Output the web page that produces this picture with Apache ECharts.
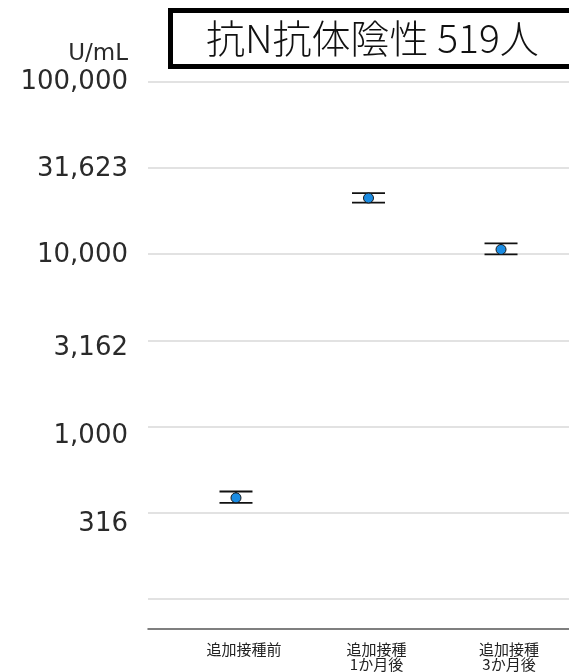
<!DOCTYPE html>
<html>
<head>
<meta charset="utf-8">
<script src="https://cdn.jsdelivr.net/npm/echarts@6/dist/echarts.min.js"></script>
<style>
  html, body { margin: 0; padding: 0; background: #fff; }
  #main { width: 569px; height: 672px; }
</style>
</head>
<body>
<div id="main"></div>
<script>
// カテゴリ・GMT・95%CI（U/mL）
const categories = ['追加接種前', '追加接種\n1か月後', '追加接種\n3か月後'];
const gmt = [386, 21150, 10640];
const ciLower = [361, 19900, 9960];
const ciUpper = [420, 22600, 11530];

// y軸の目盛り（対数）
const tickValues = [100, 316, 1000, 3162, 10000, 31623, 100000];
const tickLabels = ['', '316', '1,000', '3,162', '10,000', '31,623', '100,000'];

const yMin = 67.6;
const yMax = 100000;

// ラベルの縦ずれ（元画像に合わせる）
const labelShift = [0, 11, 10, 8, 1, 1, 1];
const rich = {};
labelShift.forEach(function (d, i) {
  rich['t' + i] = {
    fontFamily: 'DejaVu Sans',
    fontSize: 26,
    color: '#2a2a2a',
    padding: [d * 2, 0, 0, 0]
  };
});

let myChart = echarts.init(document.getElementById('main'));

let option = {
  animation: false,
  backgroundColor: '#fff',
  title: {
    text: '抗N抗体陰性 519人',
    left: 170,
    top: 10,
    padding: [9, 150, 9, 36],
    borderColor: '#000',
    borderWidth: 5,
    backgroundColor: '#fff',
    textStyle: {
      fontFamily: 'Noto Sans CJK JP',
      fontSize: 39,
      fontWeight: 300,
      color: '#111'
    }
  },
  graphic: [
    {
      type: 'text',
      x: 128,
      y: 54,
      style: {
        text: 'U/mL',
        fontFamily: 'DejaVu Sans',
        fontSize: 23,
        fill: '#2a2a2a',
        align: 'right',
        verticalAlign: 'middle'
      }
    }
  ],
  grid: {
    left: 148,
    right: 0,
    top: 81.7,
    bottom: 43.7
  },
  xAxis: {
    type: 'value',
    min: -0.664,
    max: 2.513,
    splitLine: { show: false },
    axisTick: { show: false, customValues: [0, 1, 2] },
    axisLine: {
      show: true,
      onZero: false,
      lineStyle: { color: '#555', width: 1.5 }
    },
    axisLabel: {
      customValues: [0, 1, 2],
      margin: 13,
      fontFamily: 'Noto Sans CJK JP',
      fontSize: 15,
      lineHeight: 15,
      color: '#222',
      padding: [0, 0, 0, 16],
      formatter: function (v) {
        return categories[Math.round(v)] || '';
      }
    }
  },
  yAxis: {
    type: 'value',
    min: Math.log10(yMin),
    max: Math.log10(yMax),
    axisLine: { show: false },
    axisTick: { show: false, customValues: tickValues.map(Math.log10) },
    splitLine: {
      show: true,
      lineStyle: { color: '#d9d9d9', width: 1.5 }
    },
    axisLabel: {
      customValues: tickValues.map(Math.log10),
      margin: 20,
      formatter: function (v) {
        for (let i = 0; i < tickValues.length; i++) {
          if (Math.abs(Math.log10(tickValues[i]) - v) < 0.01) {
            return tickLabels[i] ? '{t' + i + '|' + tickLabels[i] + '}' : '';
          }
        }
        return '';
      },
      rich: rich
    }
  },
  series: [
    {
      // 95%CI のエラーバー
      type: 'custom',
      data: categories.map(function (c, i) {
        return [i, Math.log10(ciLower[i]), Math.log10(ciUpper[i])];
      }),
      encode: { x: 0, y: [1, 2] },
      renderItem: function (params, api) {
        let lo = api.coord([api.value(0), api.value(1)]);
        let hi = api.coord([api.value(0), api.value(2)]);
        let hw = 16.5;
        let style = { stroke: '#111', lineWidth: 1.8 };
        return {
          type: 'group',
          children: [
            { type: 'line', shape: { x1: lo[0], y1: lo[1], x2: hi[0], y2: hi[1] }, style: style },
            { type: 'line', shape: { x1: lo[0] - hw, y1: lo[1], x2: lo[0] + hw, y2: lo[1] }, style: style },
            { type: 'line', shape: { x1: hi[0] - hw, y1: hi[1], x2: hi[0] + hw, y2: hi[1] }, style: style }
          ]
        };
      },
      z: 2
    },
    {
      type: 'scatter',
      data: gmt.map(function (v, i) {
        return [i, Math.log10(v)];
      }),
      symbol: 'circle',
      symbolSize: 10,
      itemStyle: {
        color: '#1a8ce3',
        borderColor: '#1a1a1a',
        borderWidth: 1,
        opacity: 1
      },
      z: 3
    }
  ]
};

myChart.setOption(option, true);
</script>
</body>
</html>
